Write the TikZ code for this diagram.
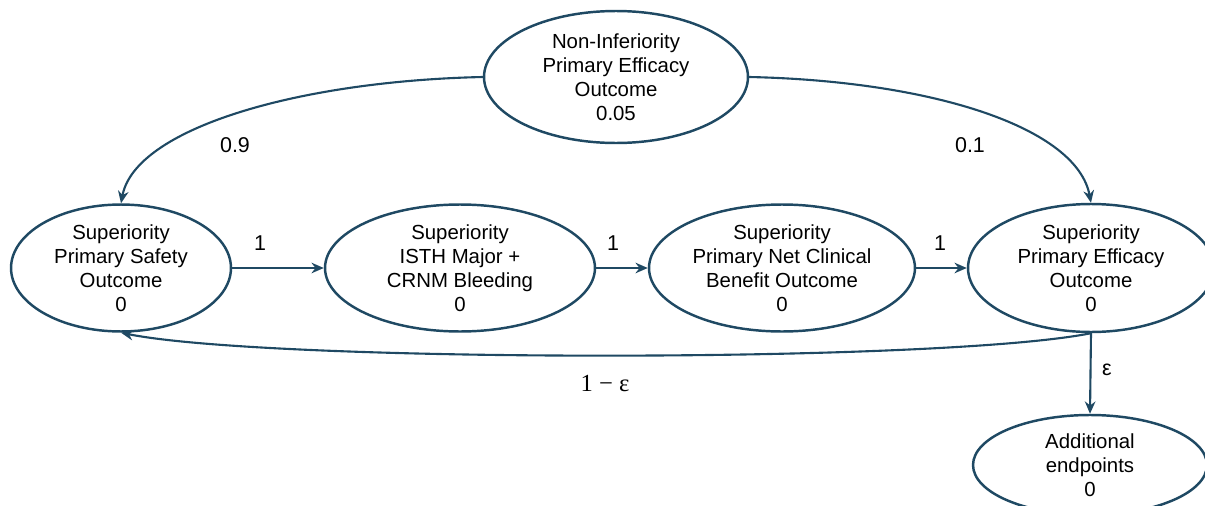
\documentclass[tikz,border=0pt]{standalone}
\usepackage[no-math]{fontspec}
\setmainfont{Liberation Sans}
\newfontfamily\labelserif{Liberation Serif}
\usepackage{xcolor}
\usepackage{tikz}
\usetikzlibrary{shapes.geometric, arrows.meta}

\definecolor{navy}{RGB}{31,73,99}

\tikzset{
    outcome/.style={ellipse, draw=navy, line width=1.4pt, align=center, inner sep=0pt,
        font=\fontsize{11.6}{13.7}\selectfont},
    flow/.style={draw=navy, line width=1.2pt, -{Stealth[length=7pt, width=6pt]}},
    weight/.style={font=\fontsize{12.2}{14}\selectfont}
}

\begin{document}
\begin{tikzpicture}[x=0.02cm, y=0.02cm]

        \useasboundingbox (0,0) rectangle (1205,505);

        \node[outcome, minimum width=5.28cm, minimum height=2.64cm] (noninf) at (616,428) {Non-Inferiority\\Primary Efficacy\\Outcome\\0.05};

        \node[outcome, minimum width=4.4cm, minimum height=2.54cm] (safety) at (121,237) {Superiority\\Primary Safety\\Outcome\\0};

        \node[outcome, minimum width=5.4cm, minimum height=2.54cm] (isth) at (460,237) {Superiority\\ISTH Major +\\CRNM Bleeding\\0};

        \node[outcome, minimum width=5.32cm, minimum height=2.54cm] (netben) at (782,237) {Superiority\\Primary Net Clinical\\Benefit Outcome\\0};

        \node[outcome, minimum width=4.92cm, minimum height=2.56cm] (supeff) at (1091,237) {Superiority\\Primary Efficacy\\Outcome\\0};

        \node[outcome, minimum width=4.68cm, minimum height=2cm] (extra) at (1090,40) {Additional\\endpoints\\0};

        \draw[flow] (noninf.west) .. controls +(-184,-4) and +(14,75) .. (safety.north);
        \draw[flow] (noninf.east) .. controls +(184,-4) and +(-14,75) .. (supeff.north);

        \draw[flow] (safety) -- (isth);
        \draw[flow] (isth) -- (netben);
        \draw[flow] (netben) -- (supeff);

        \draw[flow] (supeff.south) .. controls +(-150,-30) and +(150,-30) .. (safety.south);
        \draw[flow] (supeff.south) -- (extra.north);

        \node[weight] (w09) at (235,360) {0.9};
        \node[weight] (w01) at (970,360) {0.1};
        \node[weight] (w1a) at (260,262) {1};
        \node[weight] (w1b) at (613,262) {1};
        \node[weight] (w1c) at (940,262) {1};
        \node[weight] (weps) at (1107,135) {ε};
        \node[font=\labelserif\fontsize{14}{16}\selectfont] (wback) at (605,122) {1 − ε};

    \end{tikzpicture}
\end{document}
